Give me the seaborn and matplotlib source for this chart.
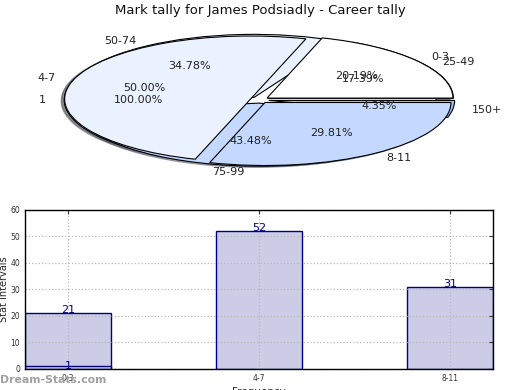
import numpy as np
import pandas as pd
import matplotlib
matplotlib.use('Agg')
import matplotlib.pyplot as plt
import seaborn as sns

title = 'Mark tally for James Podsiadly - Career tally'

# three tallies, all drawn into the same pie axes
mark_bins = ['25-49', '50-74', '75-99', '150+']
mark_counts = [4, 8, 10, 1]

kick_bins = ['0-3', '4-7', '8-11']
kick_counts = [21, 52, 31]

single_bin = ['1']
single_count = [1]

# the small extra bar sitting on top of 0-3
extra_bar_bins = ['0-3']
extra_bar_counts = [1]

pie_colors = ['#ffffff', '#ebf2ff', '#c5d8ff', '#9dbdff']
bar_fill = '#ccccE6'
bar_edge = '#000080'

sns.set_style('white')
plt.rcParams['font.family'] = ['DejaVu Sans']

fig = plt.figure(figsize=(5.2, 3.9), dpi=100)


def DrawPie(ax, values, labels):
	explode = [0.05] * len(values)
	ax.pie(values, labels=labels, colors=pie_colors[:len(values)], explode=explode,
		autopct='%.2f%%', shadow=dict(ox=-0.012, oy=-0.014, shade=0.6), startangle=0,
		wedgeprops=dict(edgecolor='black', linewidth=0.8),
		textprops=dict(fontsize=8, color='#222222'))


ax1 = fig.add_axes([0.052, 0.5417, 0.894, 0.404])
DrawPie(ax1, single_count, single_bin)
DrawPie(ax1, mark_counts, mark_bins)
DrawPie(ax1, kick_counts, kick_bins)
ax1.set_aspect('auto')
ax1.set_xlim(-1.25, 1.25)
ax1.set_ylim(-1.25, 1.25)

fig.text(0.5, 0.99, title, ha='center', va='top', fontsize=9.5, color='#111111')

# bar chart
ax2 = fig.add_axes([0.048, 0.054, 0.9, 0.408])
df_bars = pd.DataFrame({'bin': kick_bins, 'count': kick_counts})
df_extra = pd.DataFrame({'bin': extra_bar_bins, 'count': extra_bar_counts})

sns.barplot(data=df_bars, x='bin', y='count', order=kick_bins, width=0.45, color=bar_fill,
	saturation=1, edgecolor=bar_edge, linewidth=1, ax=ax2)
sns.barplot(data=df_extra, x='bin', y='count', order=kick_bins, width=0.45, color=bar_fill,
	saturation=1, edgecolor=bar_edge, linewidth=1, ax=ax2)

for i, v in enumerate(kick_counts):
	ax2.text(i, v, str(v), ha='center', va='baseline', color=bar_edge, fontsize=8)
for b, v in zip(extra_bar_bins, extra_bar_counts):
	ax2.text(kick_bins.index(b), v, str(v), ha='center', va='center', color=bar_edge, fontsize=8)

ax2.set_xlim(-0.225, 2.225)
ax2.set_ylim(0, 60)
ax2.set_yticks(range(0, 61, 10))
ax2.set_axisbelow(False)
ax2.grid(True, linestyle=':', color='#b8b8b8', linewidth=0.9)
ax2.tick_params(direction='in', length=3, labelsize=5.5, top=True, right=True, colors='#333333')
for s in ax2.spines.values():
	s.set_color('black')
	s.set_linewidth(1)
	s.set_zorder(4)
ax2.set_xlabel('Frequency', fontsize=7.5, labelpad=3)
ax2.set_ylabel('Stat Intervals', fontsize=7, labelpad=1)

fig.text(0.0, 0.026, 'Dream-Stats.com', fontsize=7.8, color='#a0a0a0', fontweight='bold',
	ha='left', va='center')

fig.savefig('out.png', dpi=100)
